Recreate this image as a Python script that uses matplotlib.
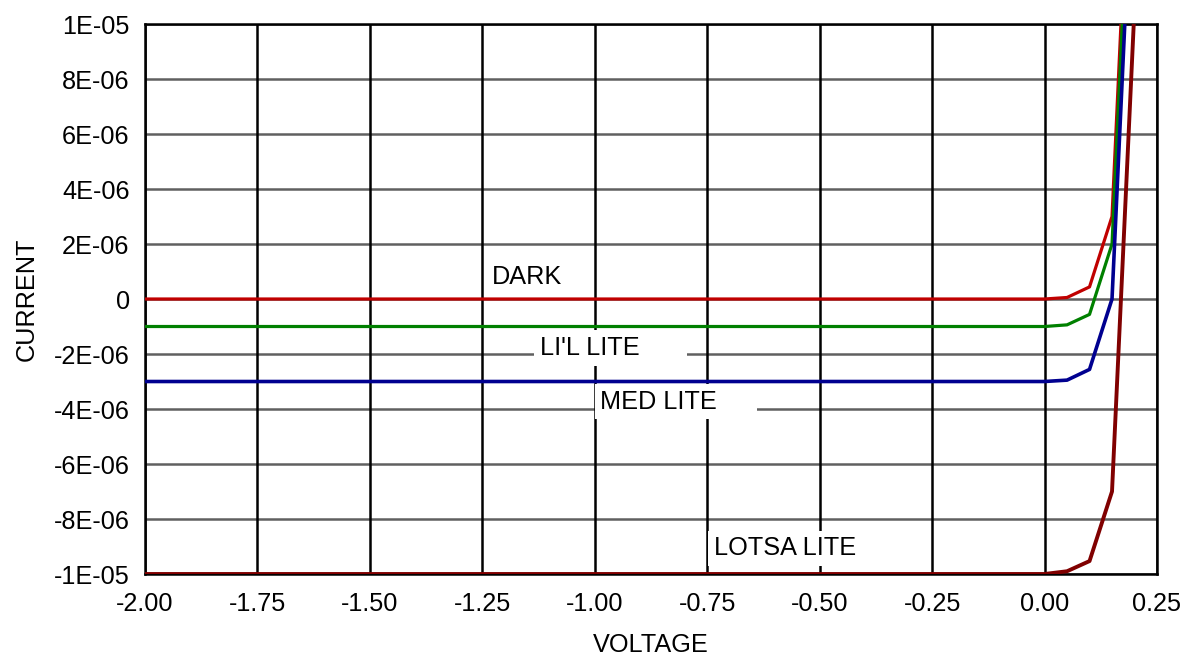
import matplotlib
matplotlib.use("Agg")
import matplotlib.pyplot as plt

plt.rcParams['font.family'] = ['Liberation Sans', 'DejaVu Sans']

# voltage points (V)
volts = [-2.00, -1.50, -1.00, -0.50, 0.00, 0.05, 0.10, 0.15, 0.20]

# current (A)
dark = [0.0, 0.0, 0.0, 0.0, 0.0, 0.055e-6, 0.44e-6, 3.0e-6, 2.06e-5]
lil_lite = [-1e-6, -1e-6, -1e-6, -1e-6, -1e-6, -0.94e-6, -0.56e-6, 2.0e-6, 1.96e-5]
med_lite = [-3e-6, -3e-6, -3e-6, -3e-6, -3e-6, -2.95e-6, -2.56e-6, 0.0, 1.76e-5]
lotsa_lite = [-1e-5, -1e-5, -1e-5, -1e-5, -1e-5, -0.99e-5, -0.953e-5, -0.70e-5, 1.06e-5]

xticks = [-2.00, -1.75, -1.50, -1.25, -1.00, -0.75, -0.50, -0.25, 0.00, 0.25]
yticks = [1e-5, 8e-6, 6e-6, 4e-6, 2e-6, 0, -2e-6, -4e-6, -6e-6, -8e-6, -1e-5]
ytick_labels = ['1E-05', '8E-06', '6E-06', '4E-06', '2E-06', '0',
                '-2E-06', '-4E-06', '-6E-06', '-8E-06', '-1E-05']

fig = plt.figure(figsize=(11.8, 6.56), dpi=100)
ax = fig.add_axes([0.1229, 0.125, 0.8576, 0.8384])

# grid: gray horizontal, black vertical
for y in yticks:
    ax.axhline(y, color='#606060', lw=1.8, zorder=1)
for x in xticks:
    ax.axvline(x, color='black', lw=1.8, zorder=1)

ax.plot(volts, dark, color='#c00000', lw=2.3, zorder=3)
ax.plot(volts, lil_lite, color='#008000', lw=2.3, zorder=3)
ax.plot(volts, med_lite, color='#000090', lw=2.6, zorder=3)
ax.plot(volts, lotsa_lite, color='#800000', lw=2.8, zorder=3)

box = dict(facecolor='white', edgecolor='none', pad=4)
fs = 18.2
ax.text(-1.229, 0.8e-6, 'DARK', fontsize=fs, va='center', ha='left', bbox=box, zorder=4)
ax.text(-1.122, -1.78e-6, "LI'L LITE      ", fontsize=fs, va='center', ha='left', bbox=box, zorder=4)
ax.text(-0.988, -3.73e-6, 'MED LITE     ', fontsize=fs, va='center', ha='left', bbox=box, zorder=4)
ax.text(-0.735, -9.07e-6, 'LOTSA LITE', fontsize=fs, va='center', ha='left', bbox=box, zorder=4)

ax.set_xlim(-2.0, 0.25)
ax.set_ylim(-1e-5, 1e-5)
ax.set_xticks(xticks)
ax.set_xticklabels(['%.2f' % v for v in xticks])
ax.set_yticks(yticks)
ax.set_yticklabels(ytick_labels)
ax.tick_params(length=0, labelsize=fs)
ax.tick_params(axis='y', pad=11)
ax.tick_params(axis='x', pad=13)

for s in ax.spines.values():
    s.set_linewidth(1.8)
    s.set_color('black')

ax.set_xlabel('VOLTAGE', fontsize=fs, labelpad=12)
ax.set_ylabel('CURRENT', fontsize=fs, labelpad=11)

fig.savefig('out.png', dpi=100)
